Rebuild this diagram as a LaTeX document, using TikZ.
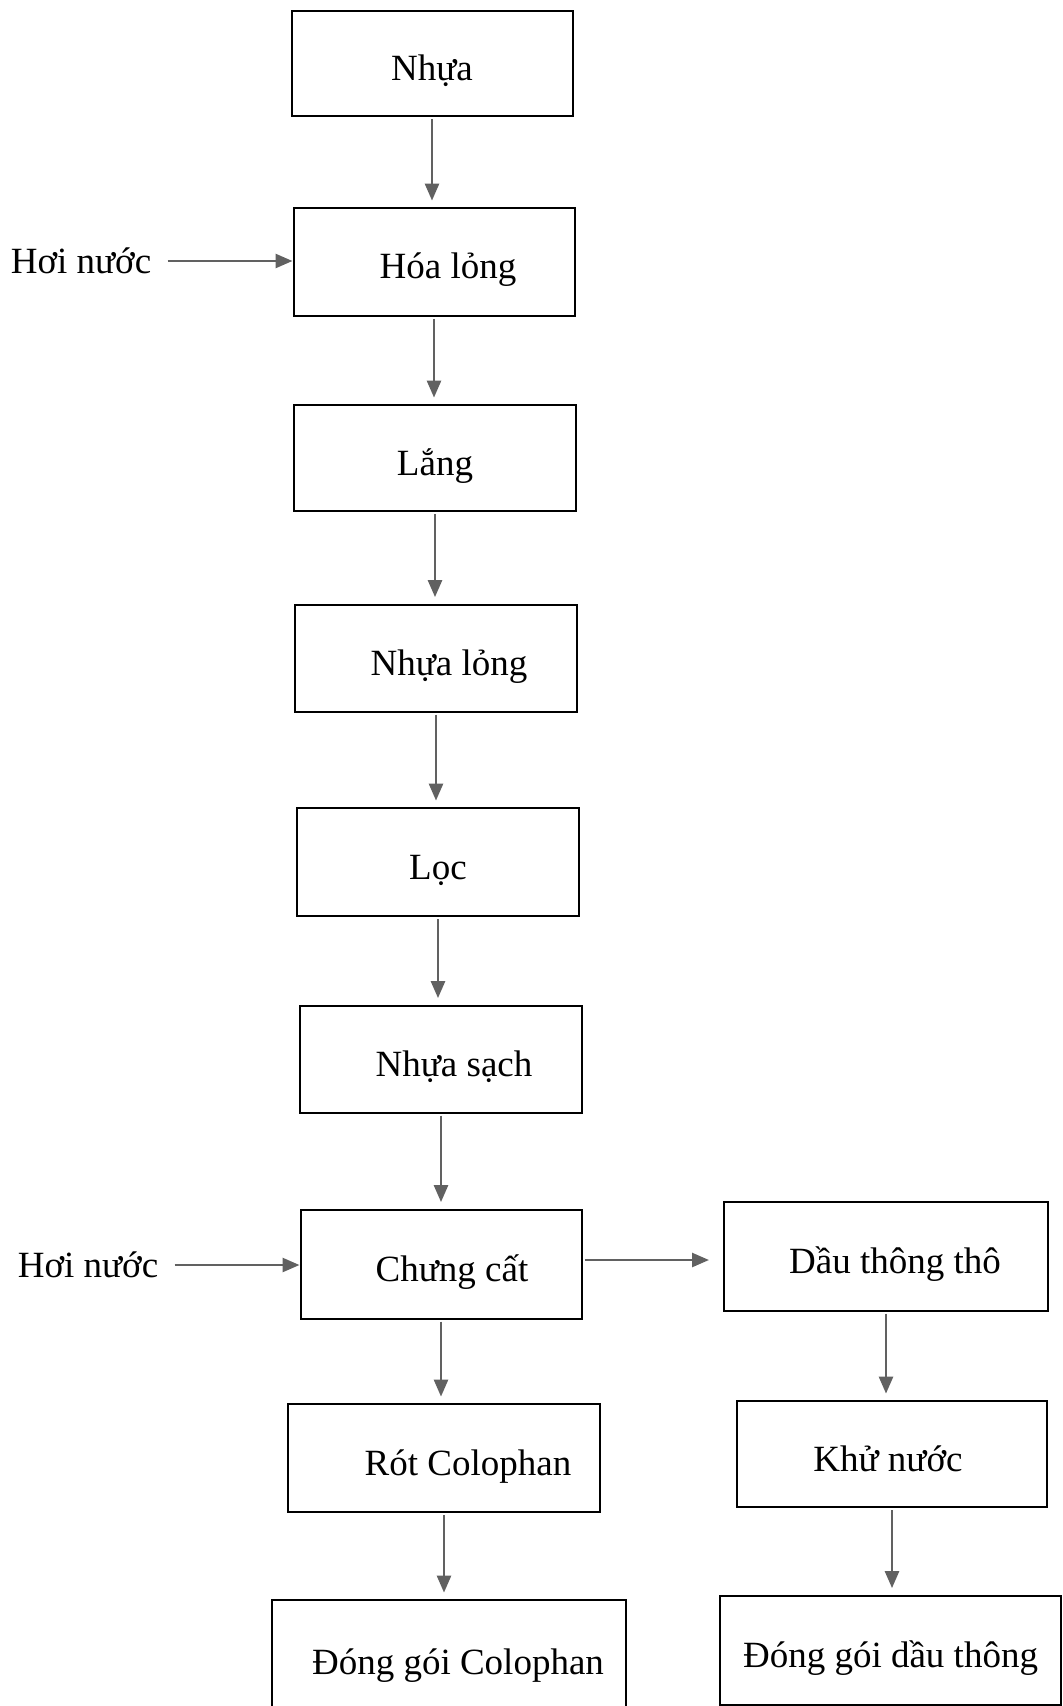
\documentclass[tikz,border=0pt]{standalone}
\usepackage{fontspec}
\setmainfont{Liberation Serif}
\usetikzlibrary{arrows.meta}
\begin{document}
\begin{tikzpicture}[x=0.5pt,y=-0.5pt,
  txt/.style={font=\fontsize{18.5}{22}\selectfont},
  stepbox/.style={txt, draw=black, line width=1pt, inner sep=0pt,
    text height=21pt, text depth=4pt},
  lbl/.style={txt, inner sep=0pt},
  flow/.style={draw=black!62, line width=1.3pt,
    -{Triangle[length=8.5pt,width=7pt]}, shorten <=1pt, shorten >=3.2pt},
  feed/.style={flow, shorten <=8pt, shorten >=0pt}]
\useasboundingbox (0,0) rectangle (1063,1706);

% main line
\node[stepbox, minimum width=140.5pt, minimum height=52.5pt] (nhua)  at (432,64)   {Nhựa};
\node[stepbox, minimum width=140.5pt, minimum height=54pt]   (hoa)   at (434,262)  {\hspace*{14pt}Hóa lỏng};
\node[stepbox, minimum width=141pt,   minimum height=53pt]   (lang)  at (435,458)  {Lắng};
\node[stepbox, minimum width=141pt,   minimum height=53.5pt] (nlong) at (436,658)  {\hspace*{13pt}Nhựa lỏng};
\node[stepbox, minimum width=141pt,   minimum height=54pt]   (loc)   at (438,862)  {Lọc};
\node[stepbox, minimum width=141pt,   minimum height=53.5pt] (nsach) at (441,1059) {\hspace*{13pt}Nhựa sạch};
\node[stepbox, minimum width=140.5pt, minimum height=54.5pt] (cc)    at (441,1264) {\hspace*{11pt}Chưng cất};
\node[stepbox, minimum width=156pt,   minimum height=54pt]   (rot)   at (444,1458) {\hspace*{24pt}Rót Colophan};
\node[stepbox, minimum width=177pt,   minimum height=57pt]   (dgc)   at (449,1657) {\hspace*{9pt}Đóng gói Colophan};

% turpentine line
\node[stepbox, minimum width=162pt,   minimum height=54.5pt] (dau)   at (886,1256) {\hspace*{9pt}Dầu thông thô};
\node[stepbox, minimum width=155pt,   minimum height=53pt]   (khu)   at (892,1454) {Khử nước\hspace*{4pt}};
\node[stepbox, minimum width=170.5pt, minimum height=54.5pt] (dgd)   at (890.5,1650) {Đóng gói dầu thông};

% steam inputs
\node[lbl] (hn1) at (81,261)  {Hơi nước};
\node[lbl] (hn2) at (88,1265) {Hơi nước};

% connectors
\draw[flow] (nhua.south)  -- (nhua.south  |- hoa.north);
\draw[flow] (hoa.south)   -- (hoa.south   |- lang.north);
\draw[flow] (lang.south)  -- (lang.south  |- nlong.north);
\draw[flow] (nlong.south) -- (nlong.south |- loc.north);
\draw[flow] (loc.south)   -- (loc.south   |- nsach.north);
\draw[flow] (nsach.south) -- (nsach.south |- cc.north);
\draw[flow] (cc.south)    -- (cc.south    |- rot.north);
\draw[flow] (rot.south)   -- (rot.south   |- dgc.north);
\draw[flow] (dau.south)   -- (dau.south   |- khu.north);
\draw[flow] (khu.south)   -- (khu.south   |- dgd.north);

\draw[feed] (hn1.east) -- (hn1.east -| hoa.west);
\draw[feed] (hn2.east) -- (hn2.east -| cc.west);
\draw[flow, shorten >=7pt] ([yshift=2pt]cc.east) -- ([yshift=2pt]cc.east -| dau.west);
\end{tikzpicture}
\end{document}
